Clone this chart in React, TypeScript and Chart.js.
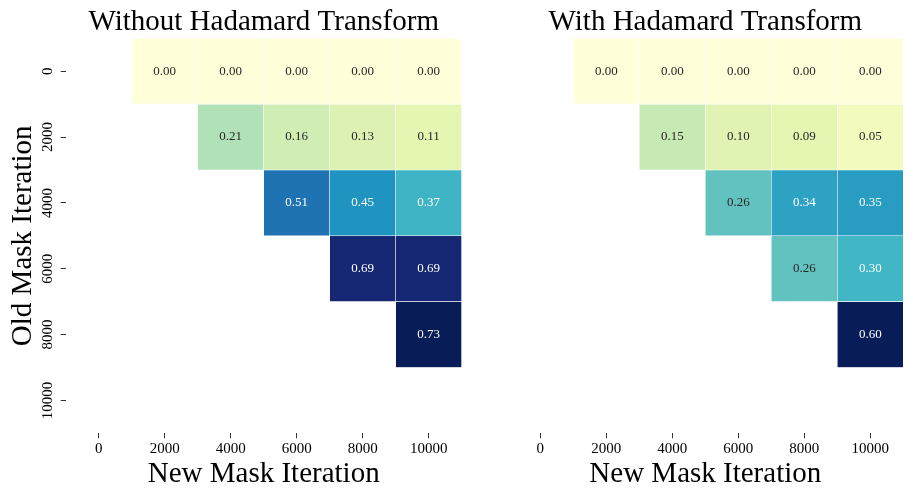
import React, { useEffect, useRef } from "react";
import { Chart, registerables } from "chart.js";

Chart.register(...registerables);

// ---------- data ----------
const newMaskIterations = ["0", "2000", "4000", "6000", "8000", "10000"];
const oldMaskIterations = [0, 2000, 4000, 6000, 8000, 10000];

const withoutRow0 = [null, 0.0, 0.0, 0.0, 0.0, 0.0];
const withoutRow2000 = [null, null, 0.21, 0.16, 0.13, 0.11];
const withoutRow4000 = [null, null, null, 0.51, 0.45, 0.37];
const withoutRow6000 = [null, null, null, null, 0.69, 0.69];
const withoutRow8000 = [null, null, null, null, null, 0.73];
const withoutRow10000 = [null, null, null, null, null, null];

const withRow0 = [null, 0.0, 0.0, 0.0, 0.0, 0.0];
const withRow2000 = [null, null, 0.15, 0.1, 0.09, 0.05];
const withRow4000 = [null, null, null, 0.26, 0.34, 0.35];
const withRow6000 = [null, null, null, null, 0.26, 0.3];
const withRow8000 = [null, null, null, null, null, 0.6];
const withRow10000 = [null, null, null, null, null, null];

const withoutHadamard = [withoutRow0, withoutRow2000, withoutRow4000, withoutRow6000, withoutRow8000, withoutRow10000];
const withHadamard = [withRow0, withRow2000, withRow4000, withRow6000, withRow8000, withRow10000];

const leftTitle = "Without Hadamard Transform";
const rightTitle = "With Hadamard Transform";
const xAxisTitle = "New Mask Iteration";
const yAxisTitle = "Old Mask Iteration";

// ---------- styling helpers ----------
const SERIF = "'Liberation Serif', 'Times New Roman', Times, serif";

const YLGNBU = [
  [255, 255, 217],
  [237, 248, 177],
  [199, 233, 180],
  [127, 205, 187],
  [65, 182, 196],
  [29, 145, 192],
  [34, 94, 168],
  [37, 52, 148],
  [8, 29, 88],
];

function cmap(t: number): number[] {
  const tt = Math.max(0, Math.min(1, t)) * (YLGNBU.length - 1);
  const i = Math.min(YLGNBU.length - 2, Math.floor(tt));
  const f = tt - i;
  const a = YLGNBU[i];
  const b = YLGNBU[i + 1];
  return [0, 1, 2].map((k) => a[k] + (b[k] - a[k]) * f);
}

function luminance(rgb: number[]): number {
  const lin = rgb.map((c) => {
    const s = c / 255;
    return s <= 0.03928 ? s / 12.92 : Math.pow((s + 0.055) / 1.055, 2.4);
  });
  return 0.2126 * lin[0] + 0.7152 * lin[1] + 0.0722 * lin[2];
}

const cellLabelPlugin = {
  id: "cellLabels",
  afterDatasetsDraw(chart: any) {
    const ctx = chart.ctx;
    ctx.save();
    ctx.font = `13px ${SERIF}`;
    ctx.textAlign = "center";
    ctx.textBaseline = "middle";
    chart.data.datasets.forEach((ds: any, di: number) => {
      const meta = chart.getDatasetMeta(di);
      meta.data.forEach((el: any, j: number) => {
        const v = ds.cellValues[j];
        if (v == null) return;
        const p = el.getCenterPoint();
        ctx.fillStyle = ds.textColors[j];
        ctx.fillText(v.toFixed(2), p.x, p.y);
      });
    });
    ctx.restore();
  },
};

function makeConfig(title: string, matrix: (number | null)[][], showY: boolean, padLeft: number, padRight: number): any {
  const values = matrix.flat().filter((v) => v != null) as number[];
  const vmin = Math.min(...values);
  const vmax = Math.max(...values);
  const half = (oldMaskIterations[1] - oldMaskIterations[0]) / 2;

  const datasets = oldMaskIterations.map((old, i) => {
    const row = matrix[i];
    const colors = row.map((v) => (v == null ? null : cmap((v - vmin) / (vmax - vmin))));
    return {
      label: String(old),
      data: row.map((v) => (v == null ? null : [old - half, old + half])),
      backgroundColor: colors.map((c) => (c ? `rgb(${c[0]},${c[1]},${c[2]})` : "rgba(0,0,0,0)")),
      borderColor: "rgba(255,255,255,0.6)",
      borderWidth: 0.6,
      borderSkipped: false,
      grouped: false,
      barPercentage: 1,
      categoryPercentage: 1,
      cellValues: row,
      textColors: colors.map((c) => (c && luminance(c) > 0.408 ? "#262626" : "#ffffff")),
    };
  });

  return {
    type: "bar",
    data: { labels: newMaskIterations, datasets },
    options: {
      responsive: false,
      animation: false,
      events: [],
      layout: { padding: { left: padLeft, right: padRight, top: 0, bottom: 0 } },
      plugins: {
        legend: { display: false },
        tooltip: { enabled: false },
        title: {
          display: true,
          text: title,
          fullSize: false,
          color: "#000",
          font: { family: SERIF, size: 29, weight: "normal", lineHeight: 1.2 },
          padding: { top: 5, bottom: -1.5 },
        },
      },
      scales: {
        x: {
          type: "category",
          offset: true,
          grid: {
            display: true,
            drawOnChartArea: false,
            drawTicks: true,
            tickLength: 5,
            offset: false,
            color: "#333",
            tickColor: "#333",
            lineWidth: 1,
          },
          border: { display: false },
          ticks: {
            color: "#000",
            font: { family: SERIF, size: 15 },
            padding: 2,
            minRotation: 0,
            maxRotation: 0,
            autoSkip: false,
          },
          title: {
            display: true,
            text: xAxisTitle,
            color: "#000",
            font: { family: SERIF, size: 29, weight: "normal", lineHeight: 1.2 },
            padding: { top: 0, bottom: 7 },
          },
          afterFit: (s: any) => {
            s.height = 65.7;
          },
        },
        y: {
          type: "linear",
          display: showY,
          reverse: true,
          min: oldMaskIterations[0] - half,
          max: oldMaskIterations[oldMaskIterations.length - 1] + half,
          afterBuildTicks: (s: any) => {
            s.ticks = oldMaskIterations.map((v) => ({ value: v }));
          },
          grid: {
            display: true,
            drawOnChartArea: false,
            drawTicks: true,
            tickLength: 5,
            color: "#333",
            lineWidth: 1,
          },
          border: { display: false },
          ticks: {
            color: "#000",
            font: { family: SERIF, size: 15 },
            minRotation: 90,
            maxRotation: 90,
            crossAlign: "center",
            padding: -6,
            callback: (v: any) => String(v),
          },
          title: {
            display: true,
            text: yAxisTitle,
            color: "#000",
            font: { family: SERIF, size: 29, weight: "normal", lineHeight: 1.2 },
            padding: { top: 6, bottom: 0 },
          },
          afterFit: (s: any) => {
            s.width = showY ? 65.7 : 0;
          },
        },
      },
    },
    plugins: [cellLabelPlugin],
  };
}

function Heatmap(props: { config: any; left: number; width: number }) {
  const ref = useRef<HTMLCanvasElement | null>(null);
  useEffect(() => {
    if (!ref.current) return;
    const chart = new Chart(ref.current, props.config);
    return () => chart.destroy();
  }, []);
  return (
    <canvas
      ref={ref}
      width={props.width}
      height={499}
      style={{ position: "absolute", left: props.left, top: 0, width: props.width, height: 499 }}
    />
  );
}

export default function App() {
  const leftCfg = makeConfig(leftTitle, withoutHadamard, true, 0, 8.3);
  const rightCfg = makeConfig(rightTitle, withHadamard, false, 37.3, 9.7);
  return (
    <div style={{ position: "fixed", left: 0, top: 0, width: 913, height: 499, background: "#fff" }}>
      <Heatmap config={leftCfg} left={0} width={470} />
      <Heatmap config={rightCfg} left={470} width={443} />
    </div>
  );
}
